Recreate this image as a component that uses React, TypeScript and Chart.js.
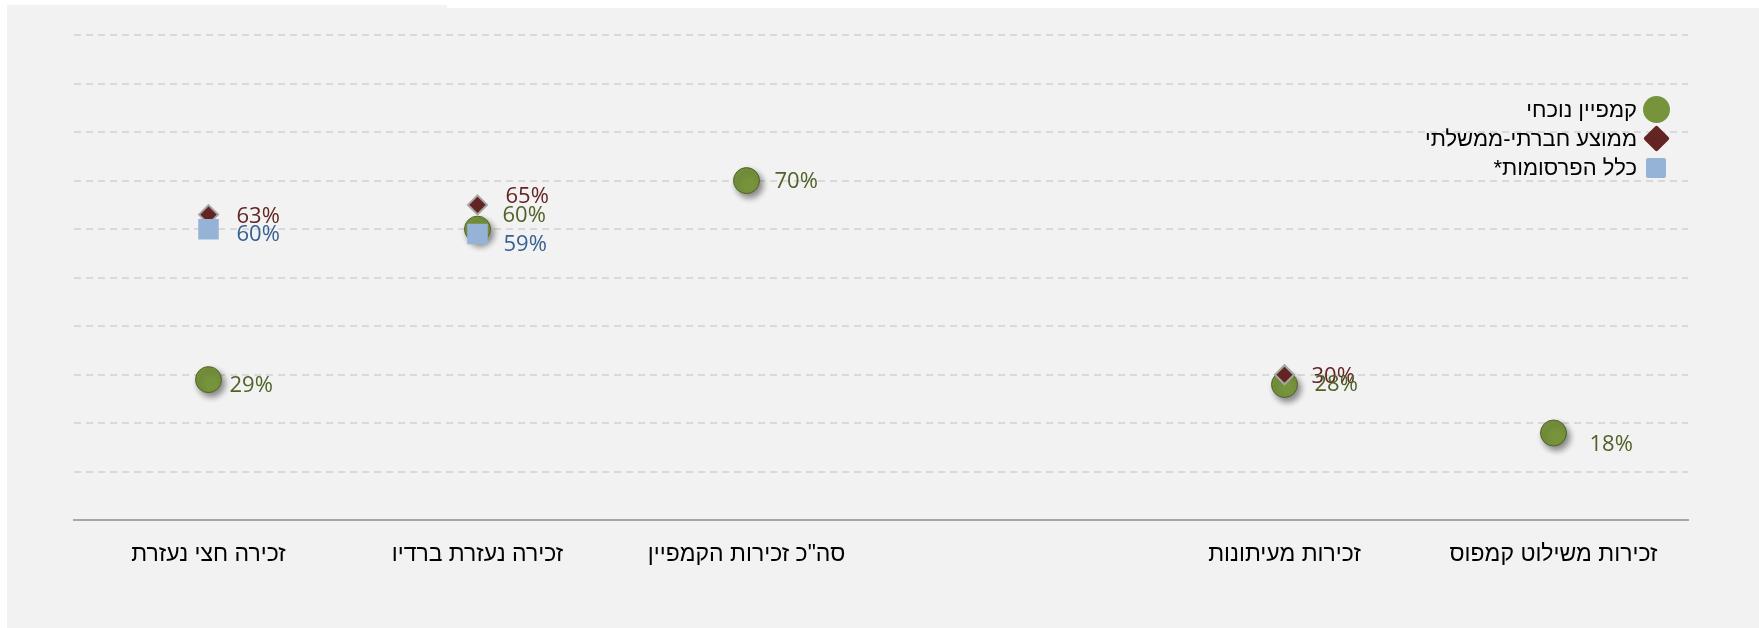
import React, { useEffect, useRef } from 'react';
import { Chart, registerables } from 'chart.js';

Chart.register(...registerables);

// ---------- data ----------
const CATEGORIES = [
  'זכירה חצי נעזרת',
  'זכירה נעזרת ברדיו',
  'סה"כ זכירות הקמפיין',
  '',
  'זכירות מעיתונות',
  'זכירות משילוט קמפוס',
];
const CURRENT_CAMPAIGN: (number | null)[] = [29, 60, 70, null, 28, 18];
const SOCIAL_GOV_AVG: (number | null)[] = [63, 65, null, null, 30, null];
const ALL_ADS: (number | null)[] = [60, 59, null, null, null, null];
const SERIES_NAMES = ['קמפיין נוכחי', 'ממוצע חברתי-ממשלתי', 'כלל הפרסומות*'];
const Y_MIN = 0;
const Y_MAX = 100;
const Y_STEP = 10;

// ---------- styles ----------
const MARKER_FILL = ['#77933c', '#632523', '#95b3d7'];
const MARKER_BORDER = ['#4f6228', '#a6a6a6', '#95b3d7'];
const LABEL_COLORS = ['#4f6228', '#632523', '#376092'];
const LABEL_FONT = '22px "Open Sans", sans-serif';
const AXIS_FONT_FAMILY = '"Liberation Sans", Arial, sans-serif';

// per-point label nudges (dx, dy) in px, to mimic the reference's manual label placement
const LABEL_NUDGE: ([number, number] | null)[][] = [
  [[21, 6], [25, -13], [28, 1], null, [30, 0], [36, 12]],
  [[28, 2], [28, -8], null, null, [27, 2], null],
  [[28, 6], [26, 11], null, null, null, null],
];

const PANEL_LEFT = 7;
const PANEL_TOP = 5;
const PANEL_W = 1752;
const PANEL_H = 623;

const shadowPlugin = {
  id: 'markerShadow',
  beforeDatasetDraw(chart: any, args: any) {
    const ds = chart.data.datasets[args.index];
    if (!ds.shadow) return;
    const ctx = chart.ctx;
    ctx.save();
    ctx.shadowColor = 'rgba(0,0,0,0.45)';
    ctx.shadowBlur = 6;
    ctx.shadowOffsetX = 3;
    ctx.shadowOffsetY = 4;
  },
  afterDatasetDraw(chart: any, args: any) {
    const ds = chart.data.datasets[args.index];
    if (!ds.shadow) return;
    chart.ctx.restore();
  },
};

const labelPlugin = {
  id: 'pctLabels',
  afterDatasetsDraw(chart: any) {
    const ctx = chart.ctx;
    ctx.save();
    ctx.font = LABEL_FONT;
    ctx.textAlign = 'left';
    ctx.textBaseline = 'middle';
    const order = [2, 1, 0];
    for (const di of order) {
      const meta = chart.getDatasetMeta(di);
      const ds = chart.data.datasets[di];
      meta.data.forEach((el: any, i: number) => {
        const v = ds.data[i];
        if (v == null) return;
        const nudge = LABEL_NUDGE[di][i] || [26, 0];
        ctx.fillStyle = LABEL_COLORS[di];
        ctx.fillText(`${v}%`, el.x + nudge[0], el.y + nudge[1]);
      });
    }
    ctx.restore();
  },
};

function LegendMarker({ idx }: { idx: number }) {
  if (idx === 0) {
    return (
      <div style={{ width: 27, height: 27, borderRadius: '50%', background: MARKER_FILL[0] }} />
    );
  }
  if (idx === 1) {
    return (
      <div
        style={{
          width: 19,
          height: 19,
          background: MARKER_FILL[1],
          transform: 'rotate(45deg)',
          borderRadius: 2,
        }}
      />
    );
  }
  return <div style={{ width: 20, height: 20, background: MARKER_FILL[2], borderRadius: 2 }} />;
}

export default function App() {
  const canvasRef = useRef<HTMLCanvasElement | null>(null);

  useEffect(() => {
    if (!canvasRef.current) return;
    const chart = new Chart(canvasRef.current, {
      type: 'line',
      data: {
        labels: CATEGORIES,
        datasets: [
          {
            label: SERIES_NAMES[0],
            data: CURRENT_CAMPAIGN,
            showLine: false,
            pointStyle: 'circle',
            pointRadius: 13,
            pointBackgroundColor: MARKER_FILL[0],
            pointBorderColor: MARKER_BORDER[0],
            pointBorderWidth: 1,
            order: 2,
            shadow: true,
          } as any,
          {
            label: SERIES_NAMES[1],
            data: SOCIAL_GOV_AVG,
            showLine: false,
            pointStyle: 'rectRot',
            pointRadius: 9.5,
            pointBackgroundColor: MARKER_FILL[1],
            pointBorderColor: MARKER_BORDER[1],
            pointBorderWidth: 2,
            order: 1,
          },
          {
            label: SERIES_NAMES[2],
            data: ALL_ADS,
            showLine: false,
            pointStyle: 'rect',
            pointRadius: 14.5,
            pointBackgroundColor: MARKER_FILL[2],
            pointBorderColor: MARKER_BORDER[2],
            pointBorderWidth: 0,
            order: 0,
          },
        ],
      },
      options: {
        animation: false,
        responsive: false,
        events: [],
        layout: {
          padding: { left: 67, right: 71, top: 30, bottom: 40 },
        },
        plugins: {
          legend: { display: false },
          tooltip: { enabled: false },
        },
        scales: {
          x: {
            type: 'category',
            offset: true,
            grid: { display: false, drawTicks: false },
            border: { display: true, color: '#a6a6a6', width: 2 },
            ticks: {
              autoSkip: false,
              maxRotation: 0,
              padding: 20,
              color: '#000',
              font: { family: AXIS_FONT_FAMILY, size: 23 },
            },
          },
          y: {
            min: Y_MIN,
            max: Y_MAX,
            ticks: { display: false, stepSize: Y_STEP, padding: 0 },
            grid: { color: '#d9d9d9', lineWidth: 2, drawTicks: false },
            border: { display: false, dash: [7, 5] },
          },
        },
      },
      plugins: [shadowPlugin, labelPlugin],
    });
    return () => chart.destroy();
  }, []);

  const legendY = [109.5, 138.5, 168];

  return (
    <>
      <div
        style={{
          position: 'absolute',
          left: PANEL_LEFT,
          top: PANEL_TOP,
          width: PANEL_W,
          height: PANEL_H,
          background: '#f2f2f2',
        }}
      >
        <canvas
          ref={canvasRef}
          width={PANEL_W}
          height={PANEL_H}
          style={{ display: 'block', width: PANEL_W, height: PANEL_H }}
        />
      </div>
      <div
        style={{
          position: 'absolute',
          left: 447,
          top: 5,
          width: 1759 - 447,
          height: 3,
          background: '#ffffff',
        }}
      />
      {SERIES_NAMES.map((name, i) => (
        <div
          key={name}
          dir="rtl"
          style={{
            position: 'absolute',
            right: 1759 - 1670,
            top: legendY[i] - 14,
            height: 28,
            display: 'flex',
            alignItems: 'center',
            gap: 5,
            whiteSpace: 'nowrap',
          }}
        >
          <div style={{ width: 28, height: 28, display: 'flex', alignItems: 'center', justifyContent: 'center' }}>
            <LegendMarker idx={i} />
          </div>
          <span style={{ fontFamily: AXIS_FONT_FAMILY, fontSize: 22, color: '#000', lineHeight: '28px' }}>
            {name}
          </span>
        </div>
      ))}
    </>
  );
}
